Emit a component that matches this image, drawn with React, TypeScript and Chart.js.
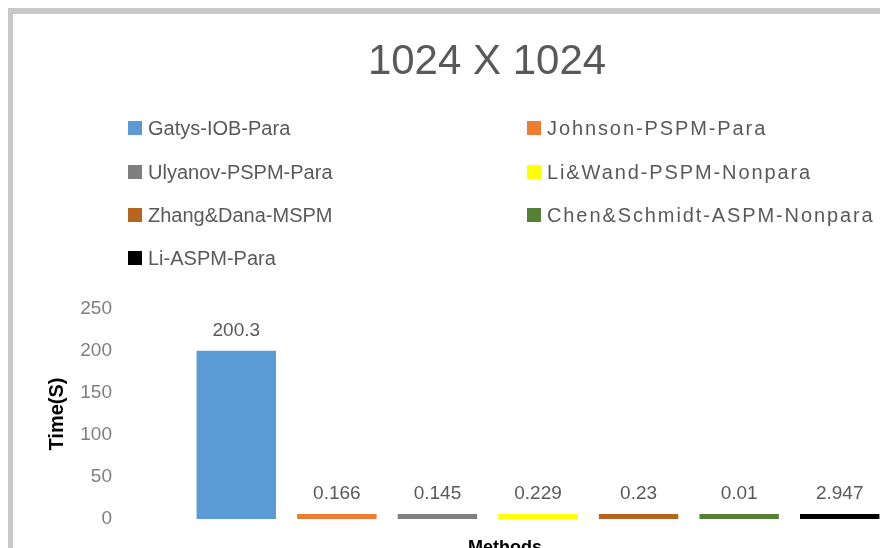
import React, { useEffect, useRef } from "react";
import { Chart, registerables } from "chart.js";

Chart.register(...registerables);

const chartTitle = "1024 X 1024";
const categories = ["1024 X 1024"];
const methods = [
  "Gatys-IOB-Para",
  "Johnson-PSPM-Para",
  "Ulyanov-PSPM-Para",
  "Li&Wand-PSPM-Nonpara",
  "Zhang&Dana-MSPM",
  "Chen&Schmidt-ASPM-Nonpara",
  "Li-ASPM-Para",
];
const times = [200.3, 0.166, 0.145, 0.229, 0.23, 0.01, 2.947];
const colors = ["#5b9bd5", "#ed7d31", "#7f7f7f", "#ffff00", "#b5651d", "#548235", "#000000"];
const yTicks = [0, 50, 100, 150, 200, 250];
const yTitle = "Time(S)";
const xTitle = "Methods";

const SANS = '"Liberation Sans", Arial, sans-serif';

const labelPlugin = {
  id: "valueLabels",
  afterDatasetsDraw(chart: any) {
    const ctx = chart.ctx;
    ctx.save();
    ctx.font = `19px ${SANS}`;
    ctx.fillStyle = "#595959";
    ctx.textAlign = "center";
    ctx.textBaseline = "alphabetic";
    chart.data.datasets.forEach((ds: any, i: number) => {
      const el = chart.getDatasetMeta(i).data[0];
      if (el) ctx.fillText(String(ds.data[0]), el.x, el.y - 15);
    });
    const area = chart.chartArea;
    ctx.font = `bold 18px ${SANS}`;
    ctx.fillStyle = "#000000";
    ctx.fillText(xTitle, (area.left + area.right) / 2 - 33, area.bottom + 34);
    ctx.restore();
  },
};

export default function App() {
  const canvasRef = useRef<HTMLCanvasElement | null>(null);

  useEffect(() => {
    if (!canvasRef.current) return;
    const chart = new Chart(canvasRef.current, {
      type: "bar",
      data: {
        labels: categories,
        datasets: methods.map((m, i) => ({
          label: m,
          data: [times[i]],
          backgroundColor: colors[i],
          borderWidth: 0,
          minBarLength: 5,
          categoryPercentage: 1,
          barPercentage: 0.79,
        })),
      },
      options: {
        animation: false,
        responsive: false,
        devicePixelRatio: 1,
        layout: { padding: { left: 0, top: 309, right: 10, bottom: 91 } },
        plugins: {
          legend: { display: false },
          tooltip: { enabled: false },
          title: { display: false },
        },
        scales: {
          x: { display: false },
          y: {
            min: 0,
            max: 250,
            grid: { display: false, drawTicks: false },
            border: { display: false },
            afterBuildTicks: (scale: any) => {
              scale.ticks = yTicks.map((v) => ({ value: v }));
            },
            afterFit: (scale: any) => {
              scale.width = 186;
            },
            ticks: {
              padding: 74,
              color: "#7f7f7f",
              font: { family: SANS, size: 19 },
            },
            title: {
              display: true,
              text: yTitle,
              color: "#000000",
              font: { family: SANS, size: 20, weight: "bold" },
              padding: { top: 45, bottom: 0 },
            },
          },
        },
      },
      plugins: [labelPlugin],
    });
    return () => chart.destroy();
  }, []);

  return (
    <div
      style={{
        position: "fixed",
        left: 0,
        top: 0,
        width: 880,
        height: 548,
        overflow: "hidden",
        background: "#ffffff",
      }}
    >
      <canvas
        ref={canvasRef}
        width={900}
        height={610}
        style={{ position: "absolute", left: 0, top: 0, width: 900, height: 610 }}
      />
      <div style={{ position: "absolute", left: 8, top: 8, width: 880, height: 6, background: "#c8c8c8" }} />
      <div style={{ position: "absolute", left: 8, top: 8, width: 5, height: 560, background: "#c8c8c8" }} />
      <div
        style={{
          position: "absolute",
          left: 287,
          top: 39,
          width: 400,
          textAlign: "center",
          fontFamily: SANS,
          fontSize: 42,
          lineHeight: "42px",
          color: "#595959",
        }}
      >
        {chartTitle}
      </div>
      {methods.map((m, i) => {
        const col = i % 2;
        const row = Math.floor(i / 2);
        const left = col === 0 ? 128 : 527;
        const cy = [128, 172, 215, 258][row];
        return (
          <div
            key={m}
            style={{
              position: "absolute",
              left,
              top: cy - 11,
              height: 22,
              display: "flex",
              alignItems: "center",
              whiteSpace: "nowrap",
            }}
          >
            <span style={{ display: "inline-block", width: 14, height: 14, background: colors[i], marginRight: 6 }} />
            <span
              style={{
                fontFamily: SANS,
                fontSize: 20,
                lineHeight: "22px",
                color: "#595959",
                letterSpacing: col === 1 ? "1.9px" : "0px",
              }}
            >
              {m}
            </span>
          </div>
        );
      })}
    </div>
  );
}
